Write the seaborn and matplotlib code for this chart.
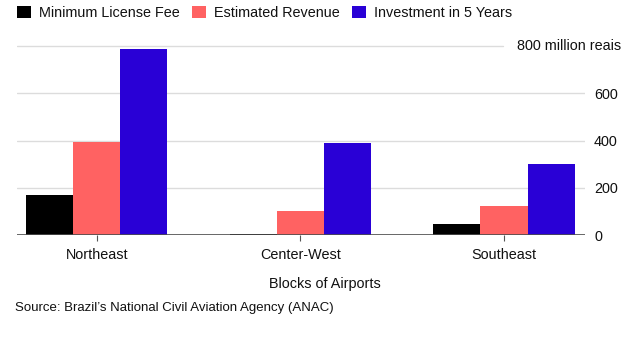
import matplotlib
matplotlib.use("Agg")
import matplotlib.pyplot as plt
from matplotlib.patches import Patch
import pandas as pd
import seaborn as sns

# Airport blocks and the three money figures (million reais)
blocks = ["Northeast", "Center-West", "Southeast"]
metrics = ["Minimum License Fee", "Estimated Revenue", "Investment in 5 Years"]
min_license_fee = [171, 3, 49]
estimated_revenue = [394, 103, 123]
investment_5y = [786, 388, 300]
colors = ["#000000", "#ff6262", "#2900d6"]
y_ticks = [0, 200, 400, 600, 800]
y_tick_labels = ["0", "200", "400", "600", "800 million reais"]

df = pd.DataFrame({
    "block": blocks * 3,
    "metric": [m for m in metrics for _ in blocks],
    "value": min_license_fee + estimated_revenue + investment_5y,
})

sns.set_theme(style="white")
plt.rcParams["font.family"] = ["Liberation Sans", "DejaVu Sans"]
FS = 10.4
plt.rcParams["font.size"] = FS

W, H = 642, 341
fig = plt.figure(figsize=(W / 100, H / 100), dpi=100)
ax_left, ax_right, ax_bottom, ax_top = 17, 585, 235.2, 41.2
ax = fig.add_axes([ax_left / W, 1 - ax_bottom / H,
                   (ax_right - ax_left) / W, (ax_bottom - ax_top) / H])

sns.barplot(data=df, x="block", y="value", hue="metric", hue_order=metrics,
            order=blocks, palette=colors, width=0.693, saturation=1,
            gap=0, legend=False, ax=ax, edgecolor="none", linewidth=0)

ax.set_xlim(-0.393, 2.398)
ax.set_ylim(0, 820)

# Horizontal guides; the top one stops short of its unit label
for y in y_ticks[1:]:
    xmax = 0.855 if y == 800 else 1.0
    ax.axhline(y, xmin=0, xmax=xmax, color="#dcdcdc", lw=1, zorder=0)
ax.axhline(0, color="#4d4d4d", lw=1.2, zorder=3)

for s in ax.spines.values():
    s.set_visible(False)

ax.yaxis.tick_right()
ax.set_yticks(y_ticks[:-1])
ax.set_yticklabels(y_tick_labels[:-1])
# The top label carries the unit and sits further left, over the plot area
ax.text(0.880, y_ticks[-1], y_tick_labels[-1], transform=ax.get_yaxis_transform(),
        ha="left", va="center", fontsize=FS, color="#111111")
ax.tick_params(axis="y", length=0, pad=6.5, labelsize=FS, labelcolor="#111111")
ax.tick_params(axis="x", length=4, width=0.8, color="#555555", pad=5,
               labelsize=FS, labelcolor="#111111", bottom=True)
ax.set_xlabel("")
ax.set_ylabel("")
ax.grid(False)

fig.text(324.5 / W, 1 - 284 / H, "Blocks of Airports", ha="center",
         va="center", fontsize=FS, color="#111111")
fig.text(15 / W, 1 - 308 / H, "Source: Brazil\u2019s National Civil Aviation Agency (ANAC)",
         ha="left", va="center", fontsize=9.55, color="#111111")

handles = [Patch(facecolor=c, edgecolor="none", label=m) for c, m in zip(colors, metrics)]
fig.legend(handles=handles, loc="upper left", bbox_to_anchor=(17 / W, 1 - 6 / H),
           ncol=3, frameon=False, borderpad=0, borderaxespad=0, fontsize=FS,
           handlelength=0.97, handleheight=0.92, handletextpad=0.56,
           columnspacing=0.85, labelcolor="#111111")

fig.savefig("out.png", dpi=100)
